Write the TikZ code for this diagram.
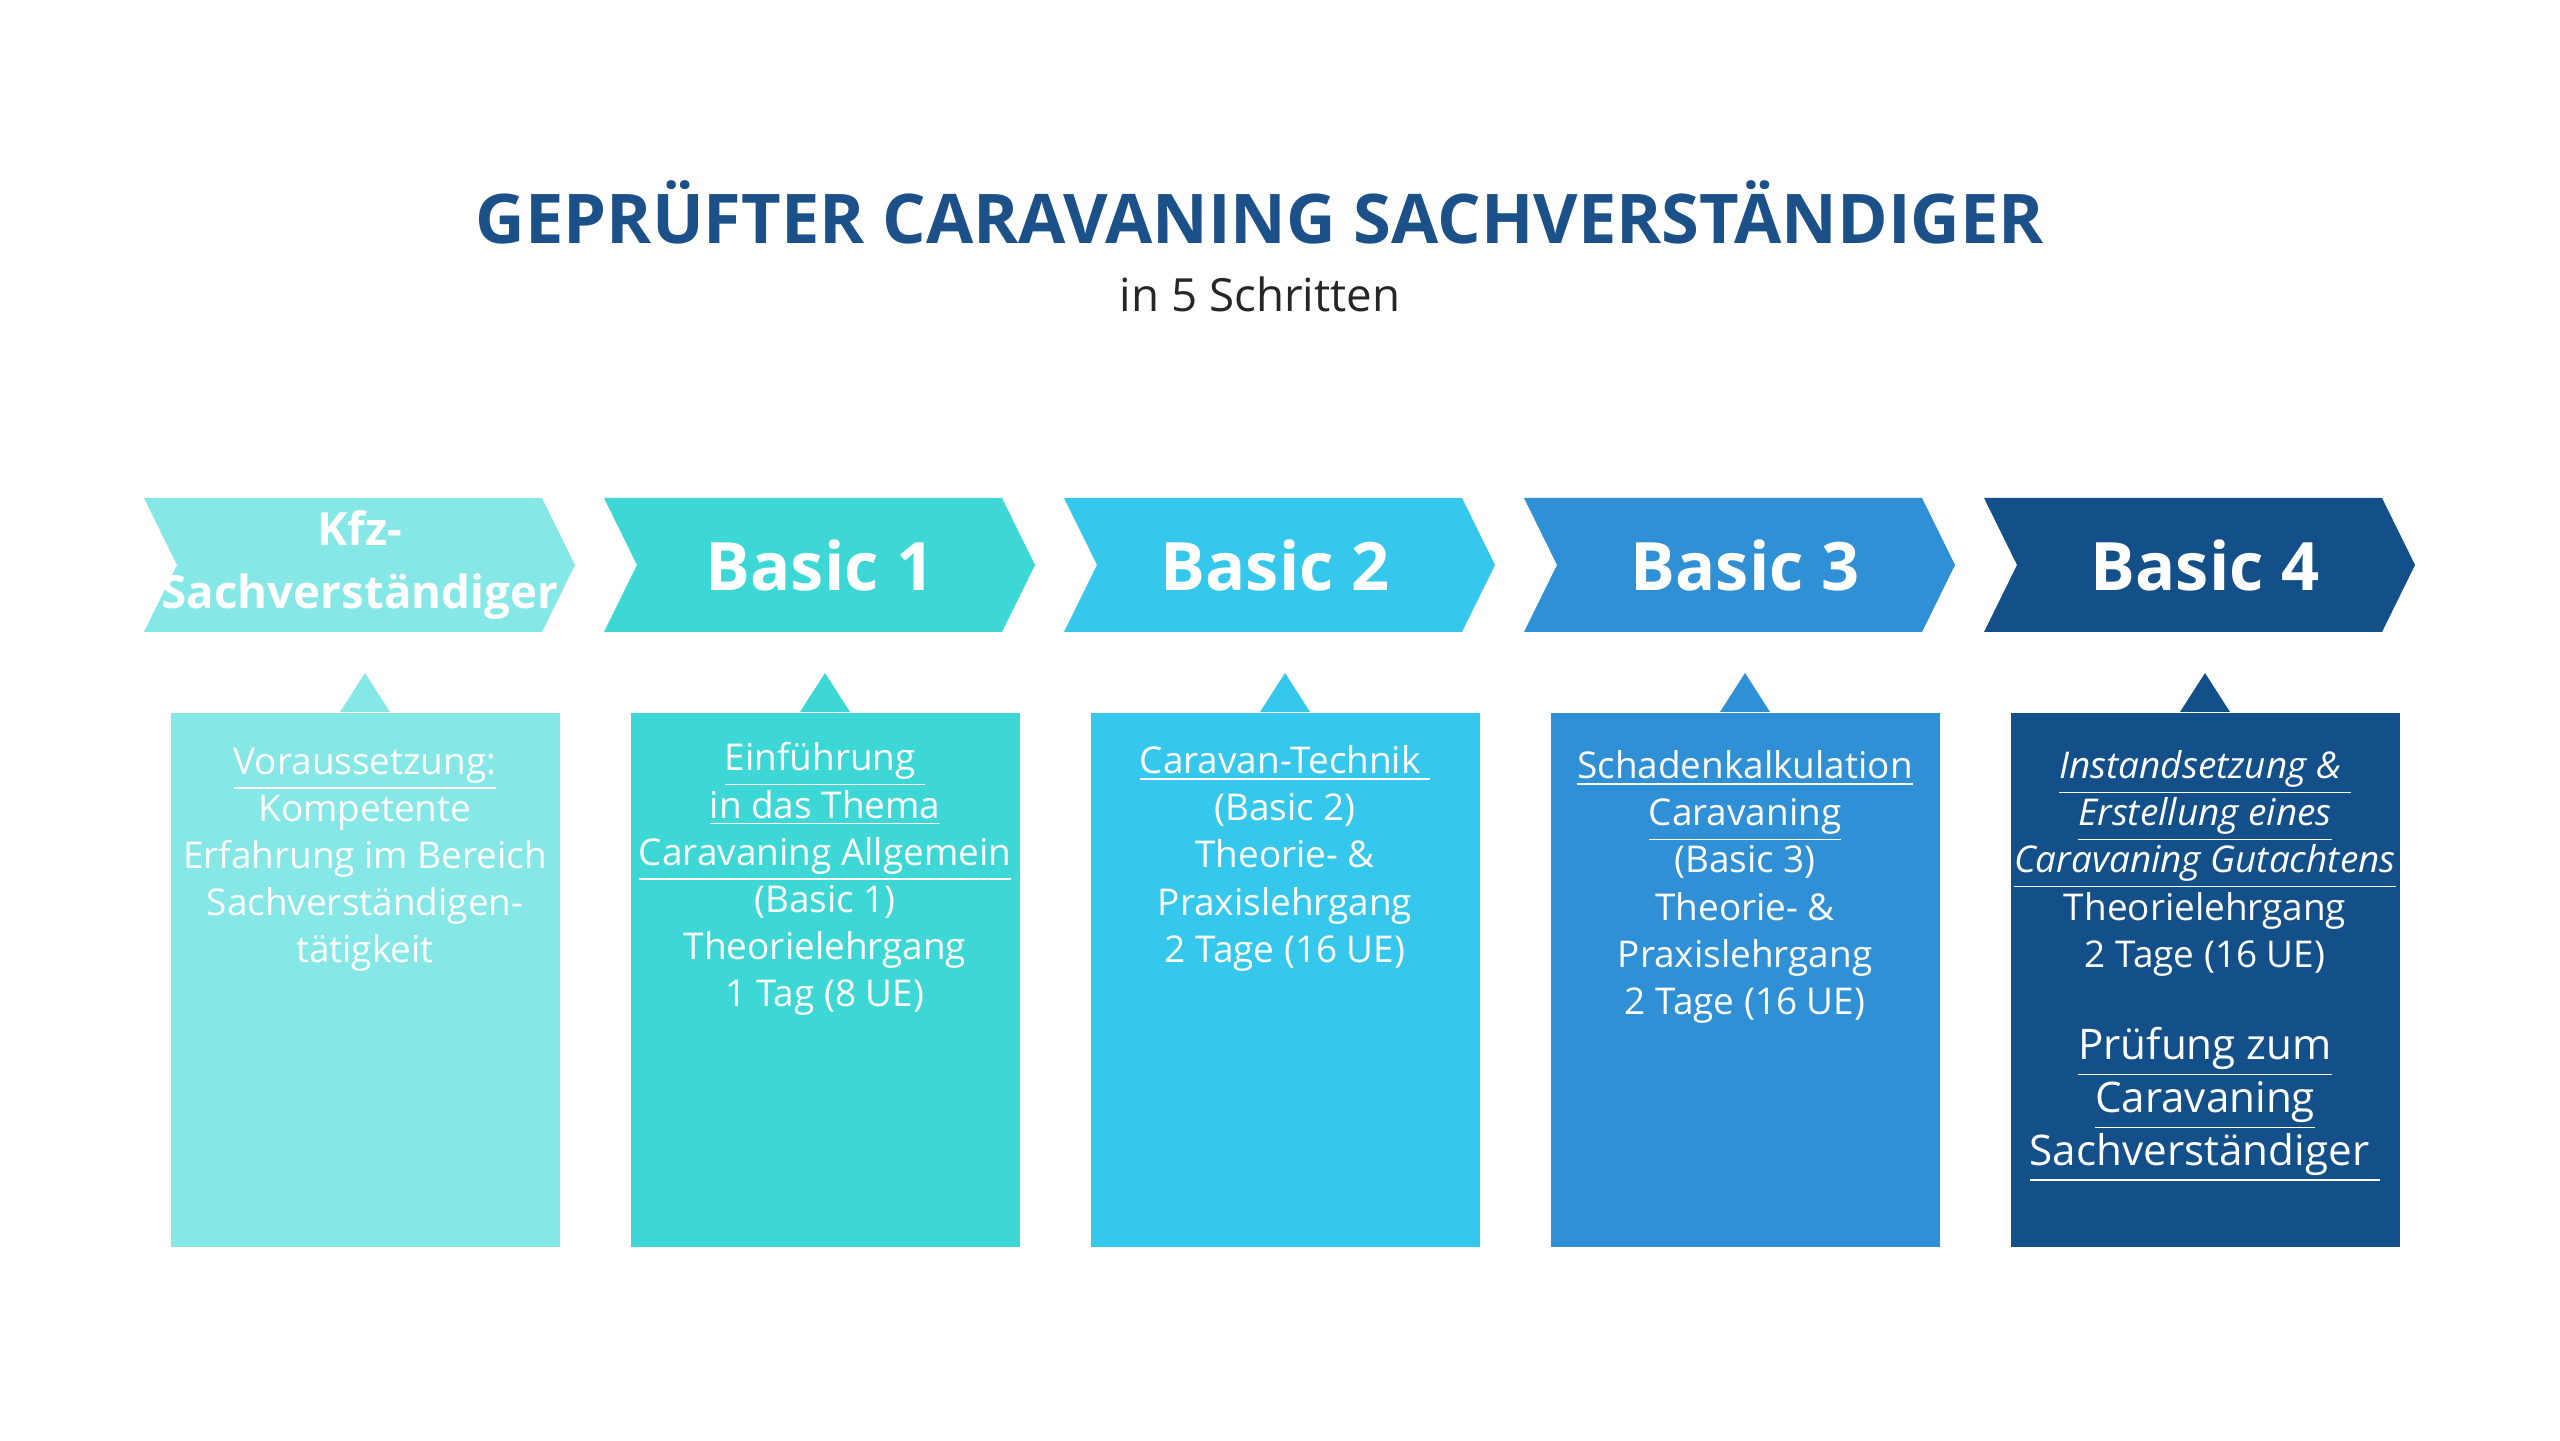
\documentclass[tikz,border=0pt]{standalone}
\usepackage{fontspec}
\setmainfont{Open Sans}
\usepackage{tikz}
\usetikzlibrary{positioning,calc}
\definecolor{cstep0}{HTML}{86E8E6}
\definecolor{cstep1}{HTML}{3DD8D6}
\definecolor{cstep2}{HTML}{36C8EC}
\definecolor{cstep3}{HTML}{2F90D5}
\definecolor{cstep4}{HTML}{135089}
\definecolor{ctitle}{HTML}{1B5088}
\tikzset{
  headtext/.style={text=white, font=\fontsize{19}{22}\selectfont\bfseries, align=center},
  bodytext/.style={text=white, font=\fontsize{10.5}{13.4}\selectfont, align=center, anchor=north, inner sep=0pt},
  stepbox/.style={minimum width=3.89cm, minimum height=5.34cm, inner sep=0pt}
}
\newcommand{\chev}[2]{% x0, colour
  \fill[#2] (#1,9.42) -- ++(3.98,0) -- ++(0.33,-0.67) -- ++(-0.33,-0.67)
    -- (#1,8.08) -- ++(0.33,0.67) -- cycle;}
\begin{document}
\begin{tikzpicture}
\useasboundingbox (0,0) rectangle (25.6,14.4);
\fill[white] (0,0) rectangle (25.6,14.4);

\node[text=ctitle, font=\fontsize{19.5}{22}\selectfont\bfseries] (title) at (12.6,12.28) {GEPRÜFTER CARAVANING SACHVERSTÄNDIGER};
\node[font=\fontsize{13}{16}\selectfont, text=black!85] (sub) at (12.6,11.46) {in 5 Schritten};

% chevrons and boxes
\foreach \i in {0,...,4}{
  \pgfmathsetmacro{\xa}{1.44+4.6*\i}
  \chev{\xa}{cstep\i}
  \node[stepbox, fill=cstep\i, anchor=north] (b\i) at (\xa+2.21,7.28) {};
  \fill[cstep\i] ($(b\i.north)+(-0.25,0)$) -- ($(b\i.north)+(0,0.39)$) -- ($(b\i.north)+(0.25,0)$) -- cycle;
}

\node[headtext, font=\fontsize{13}{18}\selectfont\bfseries] (k0) at (3.6,8.75) {Kfz-\\Sachverständiger};
\node[headtext] (k1) at (8.2,8.75) {Basic 1};
\node[headtext] (k2) at (12.75,8.75) {Basic 2};
\node[headtext] (k3) at (17.45,8.75) {Basic 3};
\node[headtext] (k4) at (22.05,8.75) {Basic 4};

\node[bodytext] (t0) at ([yshift=-0.35cm]b0.north) {\underline{Voraussetzung:}\\Kompetente\\Erfahrung im Bereich\\Sachverständigen-\\tätigkeit};
\node[bodytext] (t1) at ([yshift=-0.3cm]b1.north) {\underline{Einführung }\\\underline{in das Thema}\\\underline{Caravaning Allgemein}\\(Basic 1)\\Theorielehrgang\\1 Tag (8 UE)};
\node[bodytext] (t2) at ([yshift=-0.33cm]b2.north) {\underline{Caravan-Technik }\\(Basic 2)\\Theorie- \&\\Praxislehrgang\\2 Tage (16 UE)};
\node[bodytext] (t3) at ([yshift=-0.38cm]b3.north) {\underline{Schadenkalkulation}\\\underline{Caravaning}\\(Basic 3)\\Theorie- \&\\Praxislehrgang\\2 Tage (16 UE)};
\node[bodytext] (t4) at ([yshift=-0.38cm]b4.north) {\itshape\underline{Instandsetzung \& }\\\itshape\underline{Erstellung eines}\\\itshape\underline{Caravaning Gutachtens}\\Theorielehrgang\\2 Tage (16 UE)};
\node[bodytext, font=\fontsize{12}{15}\selectfont] (p4) at ([yshift=-0.5cm]t4.south) {\underline{Prüfung zum}\\\underline{Caravaning}\\\underline{Sachverständiger }};
\end{tikzpicture}
\end{document}
